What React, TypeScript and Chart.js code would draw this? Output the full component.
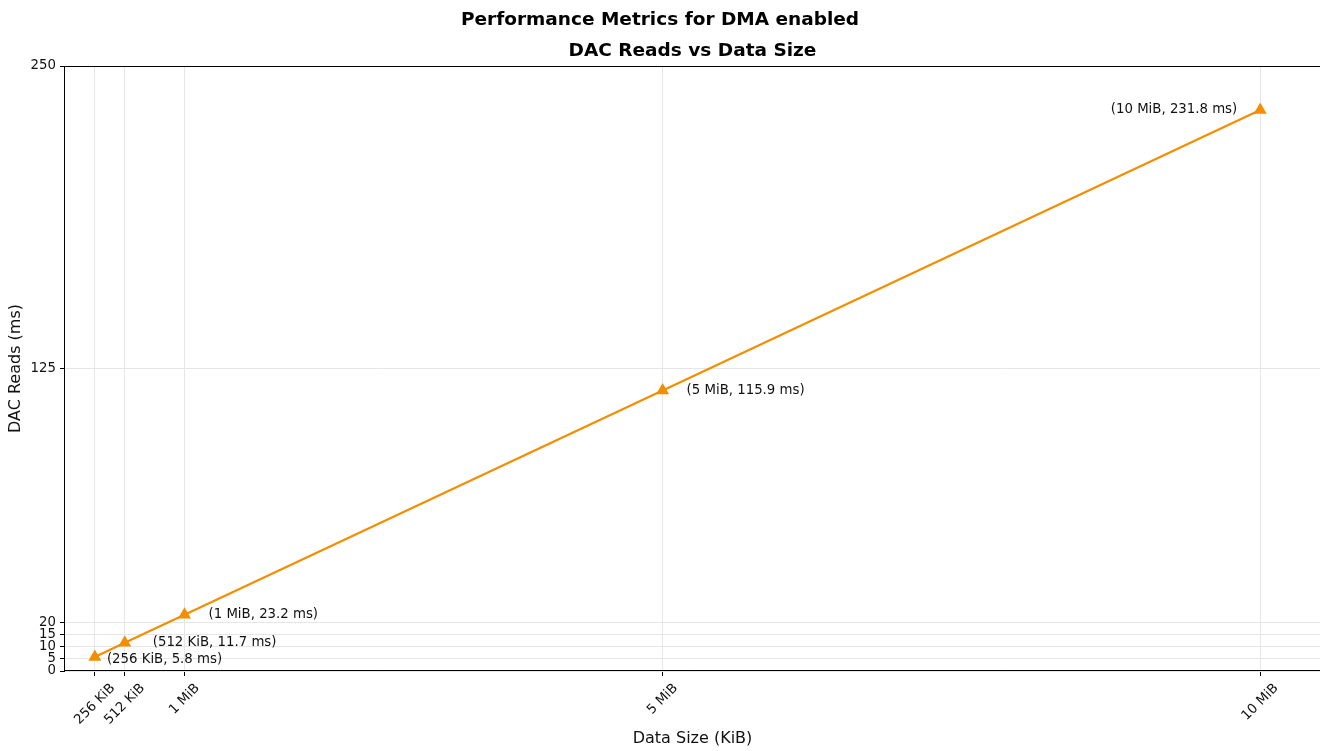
import React, { useEffect, useRef } from "react";
import { Chart, registerables } from "chart.js";

Chart.register(...registerables);

// ---- data ----
const sizesKiB = [256, 512, 1024, 5120, 10240];
const sizeLabels = ["256 KiB", "512 KiB", "1 MiB", "5 MiB", "10 MiB"];
const dacReadsMs = [5.8, 11.7, 23.2, 115.9, 231.8];
const yTickValues = [0, 5, 10, 15, 20, 125, 250];
const X_MIN = 0;
const X_MAX = 10752;
const Y_MIN = 0;
const Y_MAX = 250;

const TITLE = "Performance Metrics for DMA enabled";
const SUBTITLE = "DAC Reads vs Data Size";
const X_LABEL = "Data Size (KiB)";
const Y_LABEL = "DAC Reads (ms)";

// ---- styles ----
const ORANGE = "#F28E00";
const TEXT = "#111";
const GRID = "#e6e6e6";
const FONT = "DejaVu Sans";
const TICK_SIZE = 13.3;
// annotation offsets (dx, dy, align) in px relative to each point
const annotationOffsets: [number, number, CanvasTextAlign][] = [
  [12, 3, "left"],
  [28, 0, "left"],
  [24, 0, "left"],
  [24, 0, "left"],
  [-23, -1, "right"],
];

const decorPlugin = {
  id: "decor",
  afterDatasetsDraw(chart: any) {
    const { ctx, chartArea } = chart;
    const xs = chart.scales.x;
    const ys = chart.scales.y;
    ctx.save();
    // spines
    ctx.strokeStyle = "#000";
    ctx.lineWidth = 1;
    ctx.strokeRect(
      Math.round(chartArea.left) - 0.5,
      Math.round(chartArea.top) + 0.5,
      Math.round(chartArea.right - chartArea.left) + 1,
      Math.round(chartArea.bottom - chartArea.top) - 1
    );
    // annotations
    ctx.font = `${TICK_SIZE}px "${FONT}"`;
    ctx.fillStyle = TEXT;
    ctx.textBaseline = "middle";
    sizesKiB.forEach((v, i) => {
      const px = xs.getPixelForValue(v);
      const py = ys.getPixelForValue(dacReadsMs[i]);
      const [dx, dy, align] = annotationOffsets[i];
      ctx.textAlign = align;
      ctx.fillText(`(${sizeLabels[i]}, ${dacReadsMs[i]} ms)`, px + dx, py + dy);
    });
    // rotated x tick labels (centered like matplotlib)
    const axisY = chartArea.bottom;
    sizesKiB.forEach((v, i) => {
      const px = xs.getPixelForValue(v);
      const w = ctx.measureText(sizeLabels[i]).width;
      const h = TICK_SIZE * 1.1;
      const ext = (w + h) / Math.SQRT2;
      const cy = axisY + 10 + ext / 2;
      ctx.save();
      ctx.translate(px, cy);
      ctx.rotate(-Math.PI / 4);
      ctx.textAlign = "center";
      ctx.textBaseline = "middle";
      ctx.fillText(sizeLabels[i], 0, 0);
      ctx.restore();
    });
    ctx.restore();
  },
};

export default function App() {
  const ref = useRef<HTMLCanvasElement | null>(null);
  useEffect(() => {
    if (!ref.current) return;
    Chart.defaults.font.family = FONT;
    const chart = new Chart(ref.current, {
      type: "line",
      data: {
        datasets: [
          {
            data: sizesKiB.map((x, i) => ({ x, y: dacReadsMs[i] })),
            borderColor: ORANGE,
            backgroundColor: ORANGE,
            borderWidth: 2.2,
            pointStyle: "triangle",
            pointRadius: 7.5,
            pointBorderWidth: 0,
            pointBackgroundColor: ORANGE,
            tension: 0,
            clip: false as any,
          },
        ],
      },
      options: {
        animation: false,
        responsive: false,
        devicePixelRatio: 1,
        layout: { autoPadding: false, padding: { left: 0, right: 0, top: 0, bottom: 0 } },
        plugins: {
          legend: { display: false },
          tooltip: { enabled: false },
          title: {
            display: true,
            text: TITLE,
            color: "#000",
            font: { family: FONT, size: 18.5, weight: "bold" },
            padding: { top: 9, bottom: 0 },
          },
          subtitle: {
            display: true,
            text: SUBTITLE,
            color: "#000",
            fullSize: false,
            font: { family: FONT, size: 18.5, weight: "bold" },
            padding: { top: 8.7, bottom: 3.9 },
          },
        },
        scales: {
          x: {
            type: "linear",
            min: X_MIN,
            max: X_MAX,
            afterBuildTicks: (scale: any) => {
              scale.ticks = sizesKiB.map((v) => ({ value: v }));
            },
            afterFit: (scale: any) => {
              scale.height = 80;
              scale.paddingLeft = 0;
              scale.paddingRight = 0;
            },
            ticks: {
              autoSkip: false,
              maxRotation: 0,
              minRotation: 0,
              callback: () => "",
            },
            grid: {
              color: GRID,
              tickColor: "#000",
              tickLength: 5,
              drawTicks: true,
            },
            border: { display: false },
            title: {
              display: true,
              text: X_LABEL,
              color: TEXT,
              font: { family: FONT, size: 16 },
              padding: { top: 0, bottom: 2.4 },
            },
          },
          y: {
            type: "linear",
            min: Y_MIN,
            max: Y_MAX,
            afterBuildTicks: (scale: any) => {
              scale.ticks = yTickValues.map((v) => ({ value: v }));
            },
            afterFit: (scale: any) => {
              scale.width = 65;
            },
            ticks: {
              autoSkip: false,
              color: TEXT,
              padding: 4,
              font: { family: FONT, size: TICK_SIZE },
            },
            grid: {
              color: GRID,
              tickColor: "#000",
              tickLength: 5,
              drawTicks: true,
            },
            border: { display: false },
            title: {
              display: true,
              text: Y_LABEL,
              color: TEXT,
              font: { family: FONT, size: 16 },
              padding: { top: 6, bottom: 0 },
            },
          },
        },
      },
      plugins: [decorPlugin],
    } as any);
    return () => chart.destroy();
  }, []);
  return (
    <div style={{ position: "fixed", left: 0, top: 0, width: 1320, height: 751, background: "#fff" }}>
      <canvas ref={ref} width={1320} height={751} style={{ display: "block" }} />
    </div>
  );
}
